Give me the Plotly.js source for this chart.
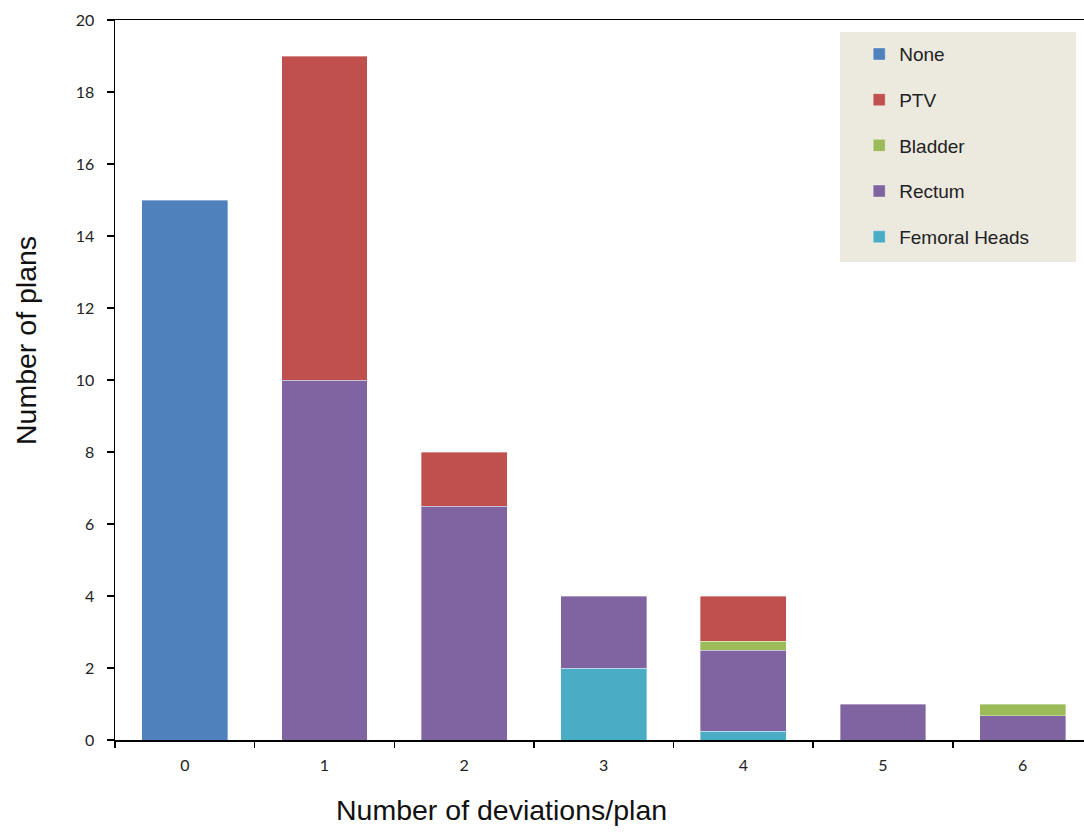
<!DOCTYPE html>
<html>
<head>
<meta charset="utf-8">
<script src="https://cdn.plot.ly/plotly-3.0.1.min.js"></script>
<style>html,body{margin:0;padding:0;background:#fff;}#chart{width:1084px;height:833px;}</style>
</head>
<body>
<div id="chart"></div>
<script>
const categories = ["0", "1", "2", "3", "4", "5", "6"];
const femoralHeads = [null, null, null, 2, 0.25, null, null];
const rectum = [null, 10, 6.5, 2, 2.25, 1, 0.67];
const bladder = [null, null, null, null, 0.25, null, 0.33];
const ptv = [null, 9, 1.5, null, 1.25, null, null];
const none = [15, null, null, null, null, null, null];
const yTicks = [0, 2, 4, 6, 8, 10, 12, 14, 16, 18, 20];

const series = [
  {name: "Femoral Heads", y: femoralHeads, color: "#4BACC6", rank: 5},
  {name: "Rectum", y: rectum, color: "#8064A2", rank: 4},
  {name: "Bladder", y: bladder, color: "#9BBB59", rank: 3},
  {name: "PTV", y: ptv, color: "#C0504D", rank: 2},
  {name: "None", y: none, color: "#4F81BD", rank: 1}
];

const traces = series.map((s, i) => ({
  type: "bar",
  name: s.name,
  x: categories,
  y: s.y,
  legendgroup: "g" + i,
  legendrank: s.rank,
  marker: {color: s.color, line: {color: "rgba(255,255,255,0.6)", width: 0.6}},
  hoverinfo: "x+y+name"
}));

const layout = {
  width: 1084, height: 833,
  margin: {l: 115, r: 0, t: 20, b: 93},
  paper_bgcolor: "#ffffff",
  plot_bgcolor: "#ffffff",
  barmode: "stack",
  bargap: 0.385,
  showlegend: true,
  legend: {
    x: 0.768, y: 0.979, xanchor: "left", yanchor: "top",
    bgcolor: "rgba(0,0,0,0)",
    traceorder: "grouped",
    tracegroupgap: 18,
    font: {family: "Liberation Sans, Arial, sans-serif", size: 19, color: "#222"},
    itemwidth: 30
  },
  xaxis: {
    type: "category",
    range: [-0.5, 6.44],
    showline: true, linecolor: "#000", linewidth: 1.5,
    mirror: true,
    ticks: "outside", ticklen: 6, tickcolor: "#000", tickwidth: 1.5,
    tickson: "boundaries",
    showgrid: false, zeroline: false,
    tickfont: {family: "Lato, Carlito, sans-serif", size: 16, color: "#222"},
    ticklabelstandoff: 10
  },
  yaxis: {
    range: [0, 20],
    tickvals: yTicks,
    showline: true, linecolor: "#000", linewidth: 1.5,
    ticks: "outside", ticklen: 7, tickcolor: "#000", tickwidth: 1.5,
    showgrid: false, zeroline: false,
    tickfont: {family: "Lato, Carlito, sans-serif", size: 16, color: "#222"},
    ticklabelstandoff: 9
  },
  shapes: [{
    type: "rect", xref: "paper", yref: "paper",
    x0: (840 - 115) / 969, x1: (1076 - 115) / 969,
    y0: (740 - 262) / 720, y1: (740 - 32) / 720,
    fillcolor: "#ECE9DF", line: {width: 0}, layer: "below"
  }],
  annotations: [
    {text: "Number of deviations/plan", xref: "paper", yref: "paper",
     x: (501 - 115) / 969, y: (740 - 810) / 720, xanchor: "center", yanchor: "middle",
     showarrow: false, font: {family: "Liberation Sans, Arial, sans-serif", size: 28.5, color: "#111"}},
    {text: "Number of plans", xref: "paper", yref: "paper",
     x: (26 - 115) / 969, y: (740 - 341) / 720, xanchor: "center", yanchor: "middle",
     textangle: -90,
     showarrow: false, font: {family: "Liberation Sans, Arial, sans-serif", size: 28.5, color: "#111"}}
  ]
};

Plotly.newPlot("chart", traces, layout, {displayModeBar: false, staticPlot: true});
</script>
</body>
</html>
